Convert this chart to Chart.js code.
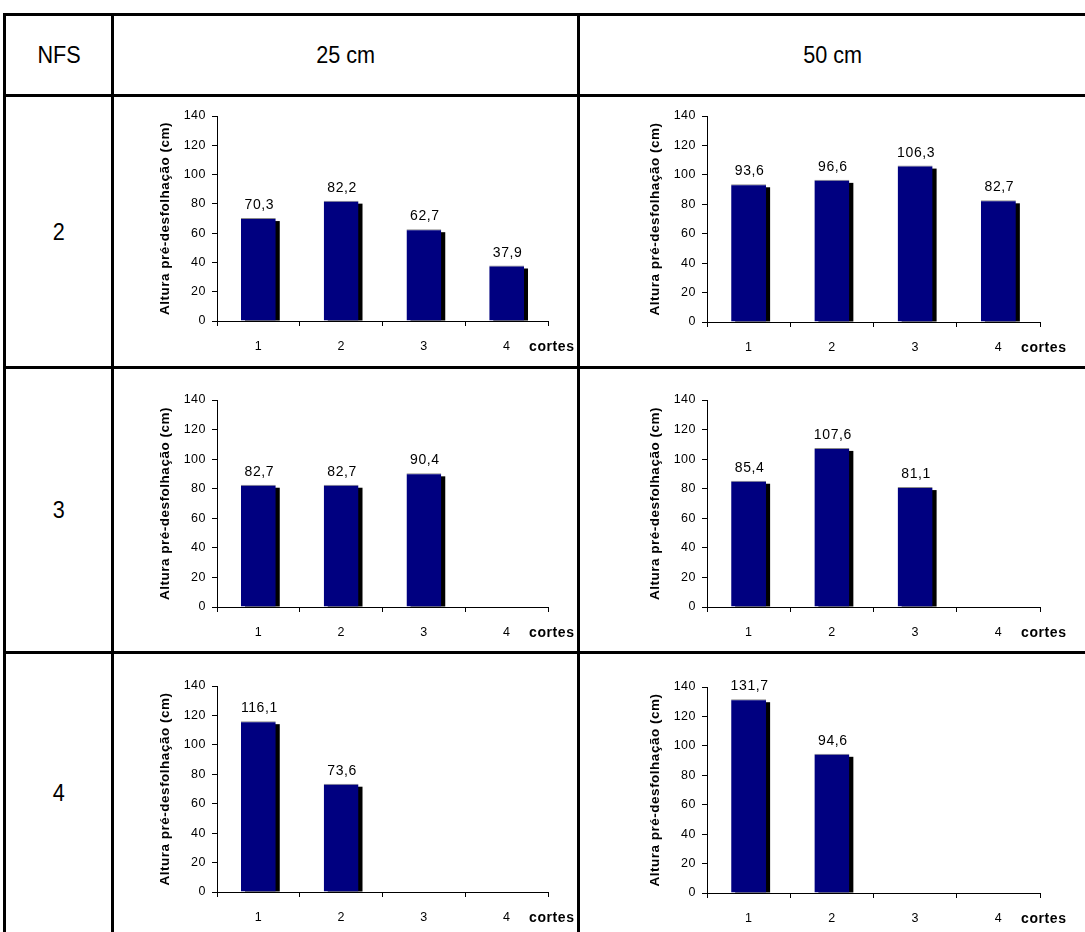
<!DOCTYPE html>
<html>
<head>
<meta charset="utf-8">
<script src="https://cdn.jsdelivr.net/npm/chart.js@4/dist/chart.umd.min.js"></script>
<style>
  html, body { margin: 0; padding: 0; background: #fff; }
  body { position: relative; width: 1085px; height: 932px; overflow: hidden;
         font-family: "Liberation Sans", Arial, sans-serif; color: #000; }
  .rule { position: absolute; background: #000; }
  .cell { position: absolute; display: flex; align-items: center; justify-content: center;
          font-size: 24px; }
  .cell span { display: inline-block; transform: scaleX(0.9); }
  .plot { position: absolute; }
  .plot canvas { display: block; }
</style>
</head>
<body>

<!-- table rules -->
<div class="rule" style="left:3px;top:13px;width:1082px;height:3px"></div>
<div class="rule" style="left:3px;top:94px;width:1082px;height:3px"></div>
<div class="rule" style="left:3px;top:366px;width:1082px;height:3px"></div>
<div class="rule" style="left:3px;top:651px;width:1082px;height:3px"></div>
<div class="rule" style="left:3px;top:13px;width:3px;height:919px"></div>
<div class="rule" style="left:111px;top:13px;width:3px;height:919px"></div>
<div class="rule" style="left:577px;top:13px;width:3px;height:919px"></div>

<!-- header and row captions -->
<div class="cell" style="left:6px;top:16px;width:105px;height:78px"><span>NFS</span></div>
<div class="cell" style="left:114px;top:16px;width:463px;height:78px"><span>25 cm</span></div>
<div class="cell" style="left:580px;top:16px;width:505px;height:78px"><span>50 cm</span></div>
<div class="cell" style="left:6px;top:97px;width:105px;height:269px"><span>2</span></div>
<div class="cell" style="left:6px;top:369px;width:105px;height:282px"><span>3</span></div>
<div class="cell" style="left:6px;top:654px;width:105px;height:278px"><span>4</span></div>

<div class="plot" id="c2_25"><canvas></canvas></div>
<div class="plot" id="c2_50"><canvas></canvas></div>
<div class="plot" id="c3_25"><canvas></canvas></div>
<div class="plot" id="c3_50"><canvas></canvas></div>
<div class="plot" id="c4_25"><canvas></canvas></div>
<div class="plot" id="c4_50"><canvas></canvas></div>

<script>
// Cutting events (x categories) and y-axis range
const cortes = ['1', '2', '3', '4'];
const yTicks = { min: 0, max: 140, step: 20 };
const yTitle = 'Altura pré-desfolhação (cm)';
const xTitle = 'cortes';

// Pre-defoliation height (cm) per cutting, by NFS and cutting height
const nfs2_25cm = [70.3, 82.2, 62.7, 37.9];
const nfs2_50cm = [93.6, 96.6, 106.3, 82.7];
const nfs3_25cm = [82.7, 82.7, 90.4, null];
const nfs3_50cm = [85.4, 107.6, 81.1, null];
const nfs4_25cm = [116.1, 73.6, null, null];
const nfs4_50cm = [131.7, 94.6, null, null];

const FONT = '"Liberation Sans", Arial, sans-serif';
const fmt = v => v.toFixed(1).replace('.', ',');

// slightly widened lettering for the axis texts
const lettering = {
  id: 'lettering',
  beforeDraw(chart) { chart.ctx.letterSpacing = '0.5px'; }
};

// black offset block behind each bar (3-D look)
const barShadow = {
  id: 'barShadow',
  beforeDatasetsDraw(chart) {
    const ctx = chart.ctx;
    const values = chart.data.datasets[0].data;
    ctx.save();
    ctx.fillStyle = '#000';
    chart.getDatasetMeta(0).data.forEach((bar, i) => {
      if (values[i] == null) return;
      const p = bar.getProps(['x', 'y', 'base', 'width'], true);
      ctx.fillRect(p.x - p.width / 2 + 4, p.y + 3, p.width, p.base - p.y - 3);
    });
    ctx.restore();
  }
};

// value printed above each bar
const valueLabels = {
  id: 'valueLabels',
  afterDatasetsDraw(chart) {
    const ctx = chart.ctx;
    const values = chart.data.datasets[0].data;
    ctx.save();
    ctx.font = '14px ' + FONT;
    ctx.letterSpacing = '0.6px';
    ctx.fillStyle = '#000';
    ctx.textAlign = 'center';
    ctx.textBaseline = 'alphabetic';
    chart.getDatasetMeta(0).data.forEach((bar, i) => {
      if (values[i] == null) return;
      const p = bar.getProps(['x', 'y'], true);
      ctx.fillText(fmt(values[i]), p.x + 1, p.y - 9);
    });
    ctx.restore();
  }
};

// "cortes" written on the tick-label line, right of the last category
const axisName = {
  id: 'axisName',
  afterDraw(chart) {
    const ctx = chart.ctx;
    const xs = chart.scales.x;
    ctx.save();
    ctx.font = 'bold 14px ' + FONT;
    ctx.letterSpacing = '0.6px';
    ctx.fillStyle = '#000';
    ctx.textAlign = 'left';
    ctx.textBaseline = 'middle';
    ctx.fillText(xTitle, xs.right - 19, xs.top + 26);
    ctx.restore();
  }
};

function buildChart(id, values, area) {
  const padL = 75, padT = 30, padR = 45, axisH = 45;
  const plotW = area.right - area.left, plotH = area.bottom - area.top;
  const W = plotW + padL + padR, H = plotH + padT + axisH;
  const box = document.getElementById(id);
  box.style.left = (area.left - padL) + 'px';
  box.style.top = (area.top - padT) + 'px';
  const canvas = box.querySelector('canvas');
  canvas.width = W; canvas.height = H;
  canvas.style.width = W + 'px'; canvas.style.height = H + 'px';

  new Chart(canvas, {
    type: 'bar',
    data: {
      labels: cortes,
      datasets: [{
        data: values,
        backgroundColor: '#000080',
        borderColor: '#8a8a8a',
        borderWidth: { top: 1, left: 0, right: 0, bottom: 0 },
        borderSkipped: 'bottom',
        categoryPercentage: 1,
        barPercentage: 0.42
      }]
    },
    options: {
      responsive: false,
      animation: false,
      devicePixelRatio: 1,
      layout: { padding: { left: 0, top: padT, right: padR, bottom: 0 } },
      plugins: { legend: { display: false }, tooltip: { enabled: false } },
      scales: {
        x: {
          offset: true,
          grid: { display: true, offset: true, drawOnChartArea: false, drawTicks: true,
                  tickLength: 5, color: '#000', lineWidth: 1 },
          border: { display: true, color: '#000', width: 1 },
          ticks: { color: '#000', font: { family: FONT, size: 12.5 }, padding: 13,
                   maxRotation: 0, autoSkip: false },
          afterFit(s) { s.height = axisH; }
        },
        y: {
          min: yTicks.min, max: yTicks.max,
          grid: { display: true, drawOnChartArea: false, drawTicks: true,
                  tickLength: 5, color: '#000', lineWidth: 1 },
          border: { display: true, color: '#000', width: 1 },
          ticks: { stepSize: yTicks.step, color: '#000', font: { family: FONT, size: 12.5 }, padding: 6 },
          title: { display: true, text: yTitle, color: '#000',
                   font: { family: FONT, size: 13.5, weight: 'bold' },
                   padding: { top: 15, bottom: 0 } },
          afterFit(s) { s.width = padL; }
        }
      }
    },
    plugins: [lettering, barShadow, valueLabels, axisName]
  });
}

buildChart('c2_25', nfs2_25cm, { left: 217, right: 548, top: 116, bottom: 321 });
buildChart('c2_50', nfs2_50cm, { left: 707, right: 1040, top: 116, bottom: 322 });
buildChart('c3_25', nfs3_25cm, { left: 217, right: 548, top: 400, bottom: 607 });
buildChart('c3_50', nfs3_50cm, { left: 707, right: 1040, top: 400, bottom: 607 });
buildChart('c4_25', nfs4_25cm, { left: 217, right: 548, top: 686, bottom: 892 });
buildChart('c4_50', nfs4_50cm, { left: 707, right: 1040, top: 687, bottom: 893 });
</script>
</body>
</html>
